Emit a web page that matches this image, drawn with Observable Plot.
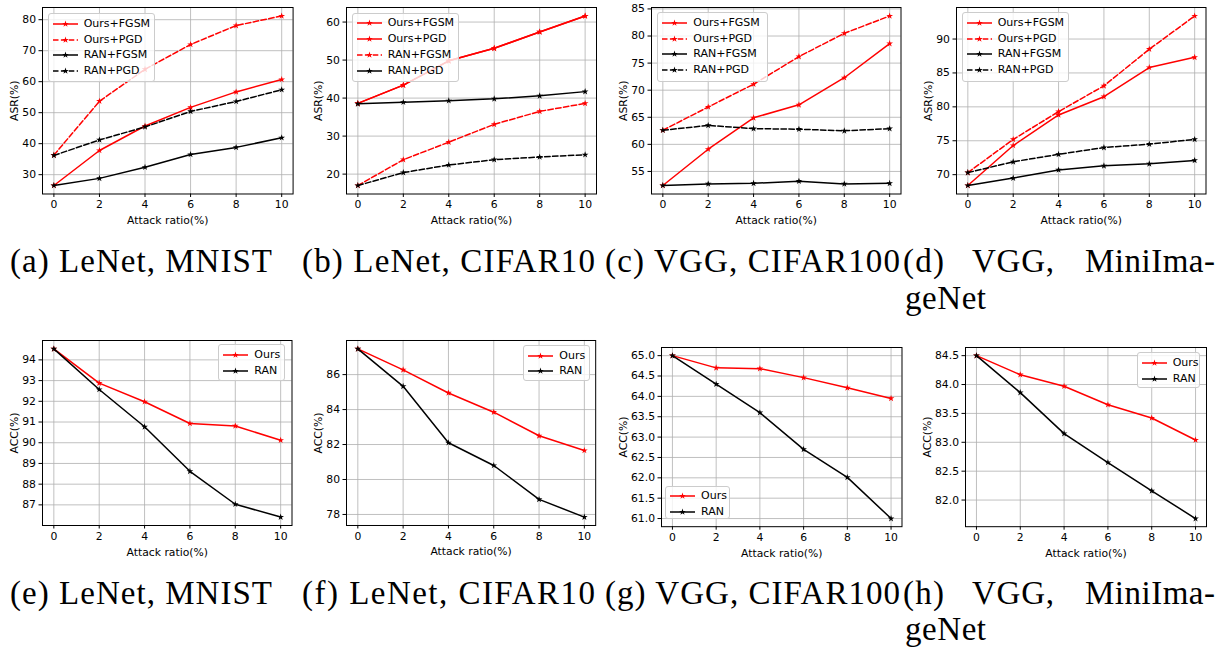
<!DOCTYPE html>
<html><head><meta charset="utf-8">
<script src="https://cdn.jsdelivr.net/npm/d3@7"></script>
<script src="https://cdn.jsdelivr.net/npm/@observablehq/plot@0.6"></script>
<style>
body{margin:0;background:#fff;}
#root{position:relative;width:1227px;height:649px;overflow:hidden;font-family:"DejaVu Sans";background:#fff;}
.legend{position:absolute;box-sizing:border-box;border:1px solid #cccccc;border-radius:3px;background:rgba(255,255,255,0.8);font:11px "DejaVu Sans";color:#000;}
.legend .row{position:absolute;left:0;height:14px;white-space:nowrap;}
.legend .row svg{position:absolute;left:3px;top:0;}
.legend .row span{position:absolute;left:35px;top:0;line-height:14px;}
.cap{font-family:"Liberation Serif";font-size:33px;fill:#000;}
</style></head><body><div id="root"></div>
<script>
// ---------------- data ----------------
const ratios = [0, 2, 4, 6, 8, 10];

const a_oursFGSM = [26.5, 37.8, 45.7, 51.7, 56.7, 60.7];
const a_oursPGD  = [36.3, 53.7, 64.0, 72.0, 78.1, 81.2];
const a_ranFGSM  = [26.5, 28.8, 32.4, 36.5, 38.8, 41.9];
const a_ranPGD   = [36.2, 41.2, 45.4, 50.4, 53.6, 57.4];

const b_oursFGSM   = [38.6, 43.4, 49.8, 53.1, 57.4, 61.6];
const b_oursPGD    = [38.6, 43.4, 49.8, 53.1, 57.4, 61.6];
const b_ranFGSM    = [17.0, 23.8, 28.4, 33.1, 36.5, 38.6];
const b_ranPGD     = [38.5, 38.9, 39.3, 39.8, 40.6, 41.7];
const b_unlabeled  = [17.0, 20.4, 22.4, 23.8, 24.5, 25.1];

const c_oursFGSM = [52.4, 59.1, 64.9, 67.3, 72.3, 78.6];
const c_oursPGD  = [62.6, 66.9, 71.1, 76.2, 80.5, 83.7];
const c_ranFGSM  = [52.4, 52.7, 52.8, 53.2, 52.7, 52.8];
const c_ranPGD   = [62.6, 63.5, 62.9, 62.8, 62.5, 62.9];

const d_oursFGSM = [68.4, 74.3, 78.8, 81.5, 85.8, 87.3];
const d_oursPGD  = [70.3, 75.2, 79.3, 83.1, 88.5, 93.4];
const d_ranFGSM  = [68.4, 69.5, 70.7, 71.3, 71.6, 72.1];
const d_ranPGD   = [70.3, 71.9, 73.0, 74.0, 74.5, 75.2];

const e_ours = [94.53, 92.88, 91.98, 90.93, 90.81, 90.12];
const e_ran  = [94.53, 92.57, 90.77, 88.62, 87.03, 86.41];

const f_ours = [87.47, 86.27, 84.95, 83.85, 82.50, 81.66];
const f_ran  = [87.47, 85.33, 82.10, 80.80, 78.86, 77.85];

const g_ours = [65.0, 64.70, 64.68, 64.46, 64.21, 63.95];
const g_ran  = [65.0, 64.30, 63.60, 62.70, 62.01, 61.0];

const h_ours = [84.5, 84.17, 83.97, 83.65, 83.42, 83.04];
const h_ran  = [84.5, 83.86, 83.15, 82.65, 82.16, 81.68];

const ticksA = [30, 40, 50, 60, 70, 80];
const ticksB = [20, 30, 40, 50, 60];
const ticksC = [55, 60, 65, 70, 75, 80, 85];
const ticksD = [70, 75, 80, 85, 90];
const ticksE = [87, 88, 89, 90, 91, 92, 93, 94];
const ticksF = [78, 80, 82, 84, 86];
const ticksG = [61.0, 61.5, 62.0, 62.5, 63.0, 63.5, 64.0, 64.5, 65.0];
const ticksH = [82.0, 82.5, 83.0, 83.5, 84.0, 84.5];

const xLabel = "Attack ratio(%)";
const asrLabel = "ASR(%)";
const accLabel = "ACC(%)";

const captionA = "(a) LeNet, MNIST";
const captionB = "(b) LeNet, CIFAR10";
const captionC = "(c) VGG, CIFAR100";
const captionD = ["(d)", "VGG,", "MiniIma-", "geNet"];
const captionE = "(e) LeNet, MNIST";
const captionF = "(f) LeNet, CIFAR10";
const captionG = "(g) VGG, CIFAR100";
const captionH = ["(h)", "VGG,", "MiniIma-", "geNet"];

// ---------------- styles / layout ----------------
const RED = "#ff0000", BLACK = "#000000";
const S = (label, values, color, dashed) => ({label, values, color, dashed});

const panels = [
  {frame:[41.7, 7, 292.3, 193.5], yLabel: asrLabel, ticks: ticksA, fmt: d3.format("d"), lo: 32,
   series:[S("Ours+FGSM", a_oursFGSM, RED, false), S("Ours+PGD", a_oursPGD, RED, true), S("RAN+FGSM", a_ranFGSM, BLACK, false), S("RAN+PGD", a_ranPGD, BLACK, true)],
   legend:[47.7, 13.3, 107.3, 68.4]},
  {frame:[346, 7, 596, 193.5], yLabel: asrLabel, ticks: ticksB, fmt: d3.format("d"), lo: 32,
   series:[S("Ours+FGSM", b_oursFGSM, RED, false), S("Ours+PGD", b_oursPGD, RED, false), S("RAN+FGSM", b_ranFGSM, RED, true), S("RAN+PGD", b_ranPGD, BLACK, false), S(null, b_unlabeled, BLACK, true)],
   legend:[351.7, 12.7, 107.3, 69]},
  {frame:[651, 7, 900.5, 193.5], yLabel: asrLabel, ticks: ticksC, fmt: d3.format("d"), lo: 32,
   series:[S("Ours+FGSM", c_oursFGSM, RED, false), S("Ours+PGD", c_oursPGD, RED, true), S("RAN+FGSM", c_ranFGSM, BLACK, false), S("RAN+PGD", c_ranPGD, BLACK, true)],
   legend:[657.3, 12.3, 110.4, 69.4]},
  {frame:[956, 7, 1205.5, 193.5], yLabel: asrLabel, ticks: ticksD, fmt: d3.format("d"), lo: 32,
   series:[S("Ours+FGSM", d_oursFGSM, RED, false), S("Ours+PGD", d_oursPGD, RED, true), S("RAN+FGSM", d_ranFGSM, BLACK, false), S("RAN+PGD", d_ranPGD, BLACK, true)],
   legend:[961.7, 12.3, 107.6, 69.4]},
  {frame:[41.5, 339.5, 291, 524.5], yLabel: accLabel, ticks: ticksE, fmt: d3.format("d"), lo: 32,
   series:[S("Ours", e_ours, RED, false), S("RAN", e_ran, BLACK, false)],
   legend:[218.3, 344.3, 66.7, 36.7]},
  {frame:[346.4, 339.5, 595.6, 524.5], yLabel: accLabel, ticks: ticksF, fmt: d3.format("d"), lo: 32,
   series:[S("Ours", f_ours, RED, false), S("RAN", f_ran, BLACK, false)],
   legend:[523.3, 345, 66.7, 36]},
  {frame:[660.5, 346.8, 901, 526], yLabel: accLabel, ticks: ticksG, fmt: d3.format(".1f"), lo: 42,
   series:[S("Ours", g_ours, RED, false), S("RAN", g_ran, BLACK, false)],
   legend:[665, 485.7, 65, 33.6]},
  {frame:[965, 346.8, 1206, 526], yLabel: accLabel, ticks: ticksH, fmt: d3.format(".1f"), lo: 42,
   series:[S("Ours", h_ours, RED, false), S("RAN", h_ran, BLACK, false)],
   legend:[1136.7, 352.3, 63.3, 35.4]}
];

const DASH = "5.5,2.4";
const R = 2.1;
const root = document.getElementById("root");

for (const p of panels) {
  const [fl, ft, fr, fb] = p.frame;
  const mL = 55, mT = 10, mR = 12, mB = 40;
  const W = fr - fl + mL + mR, H = fb - ft + mT + mB;
  const all = p.series.flatMap(s => s.values);
  const lo = d3.min(all), hi = d3.max(all), pad = (hi - lo) * 0.05;
  const marks = [
    Plot.gridX(ratios, {stroke: "#b0b0b0", strokeOpacity: 1, strokeWidth: 0.8}),
    Plot.gridY(p.ticks, {stroke: "#b0b0b0", strokeOpacity: 1, strokeWidth: 0.8})
  ];
  for (const s of p.series) {
    const rows = ratios.map((x, i) => ({x, y: s.values[i]}));
    marks.push(Plot.line(rows, {x: "x", y: "y", stroke: s.color, strokeWidth: 1.5, strokeDasharray: s.dashed ? DASH : null}));
    marks.push(Plot.dot(rows, {x: "x", y: "y", symbol: "star", r: R, fill: s.color, stroke: "none"}));
  }
  marks.push(
    Plot.axisX(ratios, {tickSize: 3.5, tickPadding: 3, label: xLabel, labelAnchor: "center", labelOffset: 30, labelArrow: "none"}),
    Plot.axisY(p.ticks, {tickSize: 3.5, tickPadding: 3, tickFormat: p.fmt, label: p.yLabel, labelAnchor: "center", labelOffset: p.lo, labelArrow: "none"}),
    Plot.frame({stroke: "black", strokeWidth: 1})
  );
  const svg = Plot.plot({
    width: W, height: H, marginLeft: mL, marginTop: mT, marginRight: mR, marginBottom: mB,
    x: {domain: [-0.5, 10.5]},
    y: {domain: [lo - pad, hi + pad]},
    style: {background: "transparent", fontFamily: "DejaVu Sans", fontSize: "10.8px", color: "black", overflow: "visible"},
    marks
  });
  svg.style.position = "absolute";
  svg.style.left = (fl - mL) + "px";
  svg.style.top = (ft - mT) + "px";
  svg.style.maxWidth = "none";
  root.appendChild(svg);

  // legend
  const [lx, ly, lw, lh] = p.legend;
  const leg = document.createElement("div");
  leg.className = "legend";
  Object.assign(leg.style, {left: lx + "px", top: ly + "px", width: lw + "px", height: lh + "px"});
  const labeled = p.series.filter(s => s.label);
  labeled.forEach((s, i) => {
    const row = document.createElement("div");
    row.className = "row";
    row.style.top = (2.5 + i * 15.8) + "px";
    row.style.width = lw + "px";
    const star = d3.symbol(d3.symbolStar, Math.PI * R * R)();
    row.innerHTML = `<svg width="28" height="14"><line x1="1" x2="26" y1="7" y2="7" stroke="${s.color}" stroke-width="1.5" ${s.dashed ? `stroke-dasharray="${DASH}"` : ""}/><path d="${star}" transform="translate(13.5,7)" fill="${s.color}"/></svg><span>${s.label}</span>`;
    leg.appendChild(row);
  });
  root.appendChild(leg);
}

// captions
const cap = d3.select(root).append("svg")
  .attr("width", 1227).attr("height", 649)
  .style("position", "absolute").style("left", 0).style("top", 0);

function capText(t, x0, x1, y) {
  cap.append("text").attr("class", "cap").attr("x", x0).attr("y", y)
    .attr("textLength", x1 - x0).attr("lengthAdjust", "spacing").text(t);
}
const rowsY = [[272, 309], [604, 640]];
[[captionA, captionB, captionC, captionD], [captionE, captionF, captionG, captionH]].forEach((caps, r) => {
  const [y1, y2] = rowsY[r];
  capText(caps[0], 10, 272, y1);
  capText(caps[1], 302, 595, y1);
  capText(caps[2], 605, 900, y1);
  capText(caps[3][0], 903, 944, y1);
  capText(caps[3][1], 972, 1054, y1);
  capText(caps[3][2], 1085, 1215, y1);
  capText(caps[3][3], 905, 986, y2);
});
</script></body></html>
